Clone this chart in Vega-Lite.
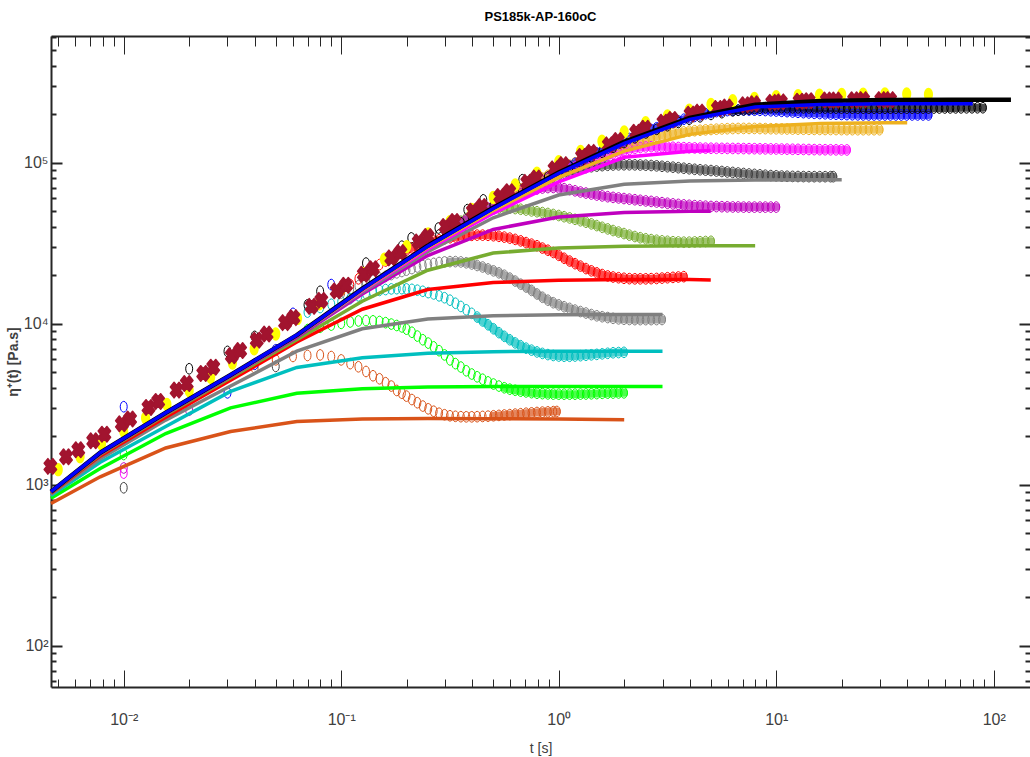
{
  "$schema": "https://vega.github.io/schema/vega-lite/v6.json",
  "width": 979,
  "height": 651,
  "autosize": {"type": "none"},
  "padding": {"left": 51, "top": 36, "right": 0, "bottom": 70},
  "background": "white",
  "config": {
    "view": {"stroke": null},
    "font": "Liberation Sans"
  },
  "title": {
    "text": "PS185k-AP-160oC",
    "fontSize": 13,
    "fontWeight": "bold",
    "color": "#000000",
    "anchor": "middle",
    "offset": 5
  },
  "data": {
    "values": [
      {"k":"c","s":"s01","t":0.04,"v":5330},{"k":"c","s":"s01","t":0.05,"v":5960},{"k":"c","s":"s01","t":0.06,"v":6260},{"k":"c","s":"s01","t":0.07,"v":6350},{"k":"c","s":"s01","t":0.08,"v":6400},{"k":"c","s":"s01","t":0.09,"v":6250},{"k":"c","s":"s01","t":0.1,"v":5960},{"k":"c","s":"s01","t":0.11,"v":5650},{"k":"c","s":"s01","t":0.12,"v":5400},{"k":"c","s":"s01","t":0.13,"v":5050},{"k":"c","s":"s01","t":0.14,"v":4750},{"k":"c","s":"s01","t":0.15,"v":4550},{"k":"c","s":"s01","t":0.16,"v":4300},{"k":"c","s":"s01","t":0.17,"v":4100},{"k":"c","s":"s01","t":0.18,"v":3850},{"k":"c","s":"s01","t":0.19,"v":3700},
      {"k":"c","s":"s01","t":0.1995,"v":3550},{"k":"c","s":"s01","t":0.2113,"v":3380},{"k":"c","s":"s01","t":0.2239,"v":3230},{"k":"c","s":"s01","t":0.2371,"v":3080},{"k":"c","s":"s01","t":0.2512,"v":2960},{"k":"c","s":"s01","t":0.2661,"v":2860},{"k":"c","s":"s01","t":0.2818,"v":2780},{"k":"c","s":"s01","t":0.2985,"v":2720},{"k":"c","s":"s01","t":0.3162,"v":2680},{"k":"c","s":"s01","t":0.335,"v":2660},{"k":"c","s":"s01","t":0.3548,"v":2645},{"k":"c","s":"s01","t":0.3758,"v":2640},{"k":"c","s":"s01","t":0.3981,"v":2640},{"k":"c","s":"s01","t":0.4217,"v":2645},{"k":"c","s":"s01","t":0.4467,"v":2655},{"k":"c","s":"s01","t":0.4732,"v":2665},{"k":"d","s":"s01","t":0.5012,"v":2680},{"k":"d","s":"s01","t":0.5309,"v":2695},{"k":"d","s":"s01","t":0.5623,"v":2710},{"k":"d","s":"s01","t":0.5957,"v":2725},{"k":"d","s":"s01","t":0.631,"v":2745},{"k":"d","s":"s01","t":0.6683,"v":2760},{"k":"d","s":"s01","t":0.7079,"v":2780},{"k":"d","s":"s01","t":0.7499,"v":2795},{"k":"d","s":"s01","t":0.7943,"v":2810},{"k":"d","s":"s01","t":0.8414,"v":2825},{"k":"d","s":"s01","t":0.8913,"v":2835},{"k":"d","s":"s01","t":0.9441,"v":2845},{"k":"d","s":"s01","t":0.98,"v":2850},

      {"k":"c","s":"s02","t":0.01,"v":1540},{"k":"c","s":"s02","t":0.07,"v":9200},{"k":"c","s":"s02","t":0.08,"v":9500},{"k":"c","s":"s02","t":0.09,"v":9800},{"k":"c","s":"s02","t":0.1,"v":10050},{"k":"c","s":"s02","t":0.11,"v":10250},{"k":"c","s":"s02","t":0.12,"v":10400},{"k":"c","s":"s02","t":0.13,"v":10460},{"k":"c","s":"s02","t":0.14,"v":10420},{"k":"c","s":"s02","t":0.15,"v":10320},{"k":"c","s":"s02","t":0.16,"v":10150},{"k":"c","s":"s02","t":0.17,"v":9950},{"k":"c","s":"s02","t":0.18,"v":9750},{"k":"c","s":"s02","t":0.19,"v":9550},
      {"k":"c","s":"s02","t":0.1995,"v":9250},{"k":"c","s":"s02","t":0.2113,"v":8850},{"k":"c","s":"s02","t":0.2239,"v":8380},{"k":"c","s":"s02","t":0.2371,"v":7950},{"k":"c","s":"s02","t":0.2512,"v":7580},{"k":"c","s":"s02","t":0.2661,"v":7180},{"k":"c","s":"s02","t":0.2818,"v":6800},{"k":"c","s":"s02","t":0.2985,"v":6400},{"k":"c","s":"s02","t":0.3162,"v":5960},{"k":"c","s":"s02","t":0.335,"v":5650},{"k":"c","s":"s02","t":0.3548,"v":5380},{"k":"c","s":"s02","t":0.3758,"v":5100},{"k":"c","s":"s02","t":0.3981,"v":4870},{"k":"c","s":"s02","t":0.4217,"v":4680},{"k":"c","s":"s02","t":0.4467,"v":4520},{"k":"c","s":"s02","t":0.4732,"v":4350},{"k":"c","s":"s02","t":0.5012,"v":4220},{"k":"c","s":"s02","t":0.5309,"v":4100},{"k":"d","s":"s02","t":0.5623,"v":4000},{"k":"d","s":"s02","t":0.5957,"v":3920},{"k":"d","s":"s02","t":0.631,"v":3860},{"k":"d","s":"s02","t":0.6683,"v":3810},{"k":"d","s":"s02","t":0.7079,"v":3770},{"k":"d","s":"s02","t":0.7499,"v":3730},{"k":"d","s":"s02","t":0.7943,"v":3700},{"k":"d","s":"s02","t":0.8414,"v":3680},{"k":"d","s":"s02","t":0.8913,"v":3665},{"k":"d","s":"s02","t":0.9441,"v":3655},{"k":"d","s":"s02","t":1,"v":3650},{"k":"d","s":"s02","t":1.059,"v":3650},{"k":"d","s":"s02","t":1.122,"v":3650},{"k":"d","s":"s02","t":1.189,"v":3650},{"k":"d","s":"s02","t":1.259,"v":3655},{"k":"d","s":"s02","t":1.334,"v":3660},{"k":"d","s":"s02","t":1.413,"v":3670},{"k":"d","s":"s02","t":1.496,"v":3680},{"k":"d","s":"s02","t":1.585,"v":3695},{"k":"d","s":"s02","t":1.679,"v":3705},{"k":"d","s":"s02","t":1.778,"v":3710},{"k":"d","s":"s02","t":1.884,"v":3715},{"k":"d","s":"s02","t":1.995,"v":3720},

      {"k":"c","s":"s03","t":0.07,"v":11800},{"k":"c","s":"s03","t":0.08,"v":12600},{"k":"c","s":"s03","t":0.09,"v":13200},{"k":"c","s":"s03","t":0.1,"v":13700},{"k":"c","s":"s03","t":0.11,"v":14300},{"k":"c","s":"s03","t":0.12,"v":14900},{"k":"c","s":"s03","t":0.13,"v":15400},{"k":"c","s":"s03","t":0.14,"v":15800},{"k":"c","s":"s03","t":0.15,"v":16100},{"k":"c","s":"s03","t":0.16,"v":16300},{"k":"c","s":"s03","t":0.17,"v":16450},{"k":"c","s":"s03","t":0.18,"v":16500},{"k":"c","s":"s03","t":0.19,"v":16500},
      {"k":"c","s":"s03","t":0.1995,"v":16450},{"k":"c","s":"s03","t":0.2113,"v":16350},{"k":"c","s":"s03","t":0.2239,"v":16150},{"k":"c","s":"s03","t":0.2371,"v":15900},{"k":"c","s":"s03","t":0.2512,"v":15600},{"k":"c","s":"s03","t":0.2661,"v":15300},{"k":"c","s":"s03","t":0.2818,"v":14900},{"k":"c","s":"s03","t":0.2985,"v":14500},{"k":"c","s":"s03","t":0.3162,"v":14000},{"k":"c","s":"s03","t":0.335,"v":13400},{"k":"c","s":"s03","t":0.3548,"v":12800},{"k":"c","s":"s03","t":0.3758,"v":12200},{"k":"c","s":"s03","t":0.3981,"v":11600},{"k":"d","s":"s03","t":0.4217,"v":11000},{"k":"d","s":"s03","t":0.4467,"v":10400},{"k":"d","s":"s03","t":0.4732,"v":9850},{"k":"d","s":"s03","t":0.5012,"v":9300},{"k":"d","s":"s03","t":0.5309,"v":8800},{"k":"d","s":"s03","t":0.5623,"v":8350},{"k":"d","s":"s03","t":0.5957,"v":7950},{"k":"d","s":"s03","t":0.631,"v":7600},{"k":"d","s":"s03","t":0.6683,"v":7300},{"k":"d","s":"s03","t":0.7079,"v":7050},{"k":"d","s":"s03","t":0.7499,"v":6850},{"k":"d","s":"s03","t":0.7943,"v":6680},{"k":"d","s":"s03","t":0.8414,"v":6540},{"k":"d","s":"s03","t":0.8913,"v":6430},{"k":"d","s":"s03","t":0.9441,"v":6350},{"k":"d","s":"s03","t":1,"v":6300},{"k":"d","s":"s03","t":1.059,"v":6280},{"k":"d","s":"s03","t":1.122,"v":6280},{"k":"d","s":"s03","t":1.189,"v":6300},{"k":"d","s":"s03","t":1.259,"v":6330},{"k":"d","s":"s03","t":1.334,"v":6370},{"k":"d","s":"s03","t":1.413,"v":6410},{"k":"d","s":"s03","t":1.496,"v":6450},{"k":"d","s":"s03","t":1.585,"v":6500},{"k":"d","s":"s03","t":1.679,"v":6550},{"k":"d","s":"s03","t":1.778,"v":6600},{"k":"d","s":"s03","t":1.884,"v":6620},{"k":"d","s":"s03","t":1.995,"v":6640},

      {"k":"c","s":"s04","t":0.1,"v":15500},{"k":"c","s":"s04","t":0.11,"v":16400},{"k":"c","s":"s04","t":0.12,"v":17200},{"k":"c","s":"s04","t":0.13,"v":17900},{"k":"c","s":"s04","t":0.14,"v":18600},{"k":"c","s":"s04","t":0.15,"v":19200},{"k":"c","s":"s04","t":0.16,"v":19700},{"k":"c","s":"s04","t":0.17,"v":20200},{"k":"c","s":"s04","t":0.18,"v":20700},{"k":"c","s":"s04","t":0.19,"v":21100},
      {"k":"c","s":"s04","t":0.1995,"v":21500},{"k":"c","s":"s04","t":0.2113,"v":22000},{"k":"c","s":"s04","t":0.2239,"v":22500},{"k":"c","s":"s04","t":0.2371,"v":23000},{"k":"c","s":"s04","t":0.2512,"v":23400},{"k":"c","s":"s04","t":0.2661,"v":23700},{"k":"c","s":"s04","t":0.2818,"v":24000},{"k":"c","s":"s04","t":0.2985,"v":24200},{"k":"d","s":"s04","t":0.3162,"v":24300},{"k":"d","s":"s04","t":0.335,"v":24300},{"k":"d","s":"s04","t":0.3548,"v":24200},{"k":"d","s":"s04","t":0.3758,"v":23900},{"k":"d","s":"s04","t":0.3981,"v":23500},{"k":"d","s":"s04","t":0.4217,"v":23000},{"k":"d","s":"s04","t":0.4467,"v":22500},{"k":"d","s":"s04","t":0.4732,"v":21900},{"k":"d","s":"s04","t":0.5012,"v":21300},{"k":"d","s":"s04","t":0.5309,"v":20700},{"k":"d","s":"s04","t":0.5623,"v":20000},{"k":"d","s":"s04","t":0.5957,"v":19200},{"k":"d","s":"s04","t":0.631,"v":18400},{"k":"d","s":"s04","t":0.6683,"v":17600},{"k":"d","s":"s04","t":0.7079,"v":16900},{"k":"d","s":"s04","t":0.7499,"v":16100},{"k":"d","s":"s04","t":0.7943,"v":15300},{"k":"d","s":"s04","t":0.8414,"v":14600},{"k":"d","s":"s04","t":0.8913,"v":14000},{"k":"d","s":"s04","t":0.9441,"v":13500},{"k":"d","s":"s04","t":1,"v":13100},{"k":"d","s":"s04","t":1.059,"v":12750},{"k":"d","s":"s04","t":1.122,"v":12450},{"k":"d","s":"s04","t":1.189,"v":12150},{"k":"d","s":"s04","t":1.259,"v":11900},{"k":"d","s":"s04","t":1.334,"v":11650},{"k":"d","s":"s04","t":1.413,"v":11400},{"k":"d","s":"s04","t":1.496,"v":11200},{"k":"d","s":"s04","t":1.585,"v":11050},{"k":"d","s":"s04","t":1.679,"v":10920},{"k":"d","s":"s04","t":1.778,"v":10800},{"k":"d","s":"s04","t":1.884,"v":10720},{"k":"d","s":"s04","t":1.995,"v":10660},{"k":"d","s":"s04","t":2.113,"v":10620},{"k":"d","s":"s04","t":2.239,"v":10600},{"k":"d","s":"s04","t":2.371,"v":10600},{"k":"d","s":"s04","t":2.512,"v":10600},{"k":"d","s":"s04","t":2.661,"v":10600},{"k":"d","s":"s04","t":2.818,"v":10610},{"k":"d","s":"s04","t":2.985,"v":10620},

      {"k":"c","s":"s05","t":0.1,"v":16000},{"k":"c","s":"s05","t":0.11,"v":17500},{"k":"c","s":"s05","t":0.12,"v":19000},{"k":"c","s":"s05","t":0.13,"v":20500},{"k":"c","s":"s05","t":0.14,"v":22000},{"k":"c","s":"s05","t":0.15,"v":23300},{"k":"c","s":"s05","t":0.16,"v":24500},{"k":"c","s":"s05","t":0.17,"v":25700},{"k":"c","s":"s05","t":0.18,"v":26800},{"k":"c","s":"s05","t":0.19,"v":27800},
      {"k":"d","s":"s05","t":0.1995,"v":28700},{"k":"d","s":"s05","t":0.2113,"v":29600},{"k":"d","s":"s05","t":0.2239,"v":30400},{"k":"d","s":"s05","t":0.2371,"v":31200},{"k":"d","s":"s05","t":0.2512,"v":31900},{"k":"d","s":"s05","t":0.2661,"v":32600},{"k":"d","s":"s05","t":0.2818,"v":33200},{"k":"d","s":"s05","t":0.2985,"v":33700},{"k":"d","s":"s05","t":0.3162,"v":34200},{"k":"d","s":"s05","t":0.335,"v":34600},{"k":"d","s":"s05","t":0.3548,"v":34900},{"k":"d","s":"s05","t":0.3758,"v":35200},{"k":"d","s":"s05","t":0.3981,"v":35400},{"k":"d","s":"s05","t":0.4217,"v":35500},{"k":"d","s":"s05","t":0.4467,"v":35500},{"k":"d","s":"s05","t":0.4732,"v":35400},{"k":"d","s":"s05","t":0.5012,"v":35200},{"k":"d","s":"s05","t":0.5309,"v":34900},{"k":"d","s":"s05","t":0.5623,"v":34500},{"k":"d","s":"s05","t":0.5957,"v":34000},{"k":"d","s":"s05","t":0.631,"v":33400},{"k":"d","s":"s05","t":0.6683,"v":32700},{"k":"d","s":"s05","t":0.7079,"v":31900},{"k":"d","s":"s05","t":0.7499,"v":31200},{"k":"d","s":"s05","t":0.7943,"v":30500},{"k":"d","s":"s05","t":0.8414,"v":29500},{"k":"d","s":"s05","t":0.8913,"v":28600},{"k":"d","s":"s05","t":0.9441,"v":27700},{"k":"d","s":"s05","t":1,"v":26600},{"k":"d","s":"s05","t":1.059,"v":25500},{"k":"d","s":"s05","t":1.122,"v":24500},{"k":"d","s":"s05","t":1.189,"v":23600},{"k":"d","s":"s05","t":1.259,"v":22800},{"k":"d","s":"s05","t":1.334,"v":22000},{"k":"d","s":"s05","t":1.413,"v":21300},{"k":"d","s":"s05","t":1.496,"v":20700},{"k":"d","s":"s05","t":1.585,"v":20200},{"k":"d","s":"s05","t":1.679,"v":19800},{"k":"d","s":"s05","t":1.778,"v":19500},{"k":"d","s":"s05","t":1.884,"v":19300},{"k":"d","s":"s05","t":1.995,"v":19150},{"k":"d","s":"s05","t":2.113,"v":19050},{"k":"d","s":"s05","t":2.239,"v":19000},{"k":"d","s":"s05","t":2.371,"v":19000},{"k":"d","s":"s05","t":2.512,"v":19000},{"k":"d","s":"s05","t":2.661,"v":19050},{"k":"d","s":"s05","t":2.818,"v":19100},{"k":"d","s":"s05","t":2.985,"v":19200},{"k":"d","s":"s05","t":3.162,"v":19300},{"k":"d","s":"s05","t":3.35,"v":19400},{"k":"d","s":"s05","t":3.548,"v":19500},{"k":"d","s":"s05","t":3.758,"v":19600},

      {"k":"d","s":"s06","t":0.3162,"v":39700},{"k":"d","s":"s06","t":0.335,"v":41500},{"k":"d","s":"s06","t":0.3548,"v":43300},{"k":"d","s":"s06","t":0.3758,"v":45100},{"k":"d","s":"s06","t":0.3981,"v":46800},{"k":"d","s":"s06","t":0.4217,"v":48400},{"k":"d","s":"s06","t":0.4467,"v":49800},{"k":"d","s":"s06","t":0.4732,"v":50900},{"k":"d","s":"s06","t":0.5012,"v":51800},{"k":"d","s":"s06","t":0.5309,"v":52300},{"k":"d","s":"s06","t":0.5623,"v":52500},{"k":"d","s":"s06","t":0.5957,"v":52300},{"k":"d","s":"s06","t":0.631,"v":51900},{"k":"d","s":"s06","t":0.6683,"v":51400},{"k":"d","s":"s06","t":0.7079,"v":50800},{"k":"d","s":"s06","t":0.7499,"v":50200},{"k":"d","s":"s06","t":0.7943,"v":49600},{"k":"d","s":"s06","t":0.8414,"v":49000},{"k":"d","s":"s06","t":0.8913,"v":48400},{"k":"d","s":"s06","t":0.9441,"v":47700},{"k":"d","s":"s06","t":1,"v":47000},{"k":"d","s":"s06","t":1.059,"v":46200},{"k":"d","s":"s06","t":1.122,"v":45400},{"k":"d","s":"s06","t":1.189,"v":44500},{"k":"d","s":"s06","t":1.259,"v":43600},{"k":"d","s":"s06","t":1.334,"v":42700},{"k":"d","s":"s06","t":1.413,"v":41700},{"k":"d","s":"s06","t":1.496,"v":40700},{"k":"d","s":"s06","t":1.585,"v":39700},{"k":"d","s":"s06","t":1.679,"v":38800},{"k":"d","s":"s06","t":1.778,"v":37900},{"k":"d","s":"s06","t":1.884,"v":37100},{"k":"d","s":"s06","t":1.995,"v":36300},{"k":"d","s":"s06","t":2.113,"v":35500},{"k":"d","s":"s06","t":2.239,"v":34800},{"k":"d","s":"s06","t":2.371,"v":34200},{"k":"d","s":"s06","t":2.512,"v":33700},{"k":"d","s":"s06","t":2.661,"v":33300},{"k":"d","s":"s06","t":2.818,"v":33000},{"k":"d","s":"s06","t":2.985,"v":32700},{"k":"d","s":"s06","t":3.162,"v":32500},{"k":"d","s":"s06","t":3.35,"v":32300},{"k":"d","s":"s06","t":3.548,"v":32200},{"k":"d","s":"s06","t":3.758,"v":32100},{"k":"d","s":"s06","t":3.981,"v":32100},{"k":"d","s":"s06","t":4.217,"v":32200},{"k":"d","s":"s06","t":4.467,"v":32300},{"k":"d","s":"s06","t":4.732,"v":32400},{"k":"d","s":"s06","t":5.012,"v":32500},

      {"k":"c","s":"s07","t":0.01,"v":1270},{"k":"c","s":"s07","t":0.02,"v":2900},
      {"k":"d","s":"s07","t":0.3162,"v":38800},{"k":"d","s":"s07","t":0.335,"v":40600},{"k":"d","s":"s07","t":0.3548,"v":42400},{"k":"d","s":"s07","t":0.3758,"v":44300},{"k":"d","s":"s07","t":0.3981,"v":46200},{"k":"d","s":"s07","t":0.4217,"v":48200},{"k":"d","s":"s07","t":0.4467,"v":50200},{"k":"d","s":"s07","t":0.4732,"v":52100},{"k":"d","s":"s07","t":0.5012,"v":54000},{"k":"d","s":"s07","t":0.5309,"v":56000},{"k":"d","s":"s07","t":0.5623,"v":58000},{"k":"d","s":"s07","t":0.5957,"v":60000},{"k":"d","s":"s07","t":0.631,"v":62000},{"k":"d","s":"s07","t":0.6683,"v":64000},{"k":"d","s":"s07","t":0.7079,"v":65800},{"k":"d","s":"s07","t":0.7499,"v":67400},{"k":"d","s":"s07","t":0.7943,"v":68700},{"k":"d","s":"s07","t":0.8414,"v":69600},{"k":"d","s":"s07","t":0.8913,"v":70100},{"k":"d","s":"s07","t":0.9441,"v":70200},{"k":"d","s":"s07","t":1,"v":69800},{"k":"d","s":"s07","t":1.059,"v":69000},{"k":"d","s":"s07","t":1.122,"v":68000},{"k":"d","s":"s07","t":1.189,"v":66900},{"k":"d","s":"s07","t":1.259,"v":65800},{"k":"d","s":"s07","t":1.334,"v":64800},{"k":"d","s":"s07","t":1.413,"v":63900},{"k":"d","s":"s07","t":1.496,"v":63000},{"k":"d","s":"s07","t":1.585,"v":62200},{"k":"d","s":"s07","t":1.679,"v":61500},{"k":"d","s":"s07","t":1.778,"v":60900},{"k":"d","s":"s07","t":1.884,"v":60400},{"k":"d","s":"s07","t":1.995,"v":59900},{"k":"d","s":"s07","t":2.113,"v":59400},{"k":"d","s":"s07","t":2.239,"v":58900},{"k":"d","s":"s07","t":2.371,"v":58400},{"k":"d","s":"s07","t":2.512,"v":57900},{"k":"d","s":"s07","t":2.661,"v":57500},{"k":"d","s":"s07","t":2.818,"v":57000},{"k":"d","s":"s07","t":2.985,"v":56500},{"k":"d","s":"s07","t":3.162,"v":56000},{"k":"d","s":"s07","t":3.35,"v":55500},{"k":"d","s":"s07","t":3.548,"v":55100},{"k":"d","s":"s07","t":3.758,"v":54700},{"k":"d","s":"s07","t":3.981,"v":54400},{"k":"d","s":"s07","t":4.217,"v":54100},{"k":"d","s":"s07","t":4.467,"v":53900},{"k":"d","s":"s07","t":4.732,"v":53700},{"k":"d","s":"s07","t":5.012,"v":53500},{"k":"d","s":"s07","t":5.309,"v":53400},{"k":"d","s":"s07","t":5.623,"v":53300},{"k":"d","s":"s07","t":5.957,"v":53200},{"k":"d","s":"s07","t":6.31,"v":53100},{"k":"d","s":"s07","t":6.683,"v":53100},{"k":"d","s":"s07","t":7.079,"v":53000},{"k":"d","s":"s07","t":7.499,"v":53000},{"k":"d","s":"s07","t":7.943,"v":53000},{"k":"d","s":"s07","t":8.414,"v":53000},{"k":"d","s":"s07","t":8.913,"v":53000},{"k":"d","s":"s07","t":9.441,"v":53000},{"k":"d","s":"s07","t":10,"v":53000},

      {"k":"c","s":"s08","t":0.01,"v":957},{"k":"c","s":"s08","t":0.05,"v":5430},
      {"k":"d","s":"s08","t":0.5012,"v":54600},{"k":"d","s":"s08","t":0.5309,"v":57000},{"k":"d","s":"s08","t":0.5623,"v":59400},{"k":"d","s":"s08","t":0.5957,"v":61900},{"k":"d","s":"s08","t":0.631,"v":64600},{"k":"d","s":"s08","t":0.6683,"v":67100},{"k":"d","s":"s08","t":0.7079,"v":69800},{"k":"d","s":"s08","t":0.7499,"v":72200},{"k":"d","s":"s08","t":0.7943,"v":74600},{"k":"d","s":"s08","t":0.8414,"v":77000},{"k":"d","s":"s08","t":0.8913,"v":79400},{"k":"d","s":"s08","t":0.9441,"v":81800},{"k":"d","s":"s08","t":1,"v":84100},{"k":"d","s":"s08","t":1.059,"v":86100},{"k":"d","s":"s08","t":1.122,"v":88100},{"k":"d","s":"s08","t":1.189,"v":90200},{"k":"d","s":"s08","t":1.259,"v":92300},{"k":"d","s":"s08","t":1.334,"v":93300},{"k":"d","s":"s08","t":1.413,"v":94400},{"k":"d","s":"s08","t":1.496,"v":95200},{"k":"d","s":"s08","t":1.585,"v":95900},{"k":"d","s":"s08","t":1.679,"v":96400},{"k":"d","s":"s08","t":1.778,"v":96800},{"k":"d","s":"s08","t":1.884,"v":97000},{"k":"d","s":"s08","t":1.995,"v":97100},{"k":"d","s":"s08","t":2.113,"v":97100},{"k":"d","s":"s08","t":2.239,"v":97000},{"k":"d","s":"s08","t":2.371,"v":96800},{"k":"d","s":"s08","t":2.512,"v":96500},{"k":"d","s":"s08","t":2.661,"v":96100},{"k":"d","s":"s08","t":2.818,"v":95600},{"k":"d","s":"s08","t":2.985,"v":95000},{"k":"d","s":"s08","t":3.162,"v":94400},{"k":"d","s":"s08","t":3.35,"v":93800},{"k":"d","s":"s08","t":3.548,"v":93100},{"k":"d","s":"s08","t":3.758,"v":92400},{"k":"d","s":"s08","t":3.981,"v":91700},{"k":"d","s":"s08","t":4.217,"v":91000},{"k":"d","s":"s08","t":4.467,"v":90400},{"k":"d","s":"s08","t":4.732,"v":89900},{"k":"d","s":"s08","t":5.012,"v":89400},{"k":"d","s":"s08","t":5.309,"v":88800},{"k":"d","s":"s08","t":5.623,"v":88200},{"k":"d","s":"s08","t":5.957,"v":87600},{"k":"d","s":"s08","t":6.31,"v":87000},{"k":"d","s":"s08","t":6.683,"v":86300},{"k":"d","s":"s08","t":7.079,"v":85700},{"k":"d","s":"s08","t":7.499,"v":85100},{"k":"d","s":"s08","t":7.943,"v":84600},{"k":"d","s":"s08","t":8.414,"v":84100},{"k":"d","s":"s08","t":8.913,"v":83600},{"k":"d","s":"s08","t":9.441,"v":83200},{"k":"d","s":"s08","t":10,"v":82900},{"k":"d","s":"s08","t":10.59,"v":82600},{"k":"d","s":"s08","t":11.22,"v":82400},{"k":"d","s":"s08","t":11.89,"v":82200},{"k":"d","s":"s08","t":12.59,"v":82100},{"k":"d","s":"s08","t":13.34,"v":82000},{"k":"d","s":"s08","t":14.13,"v":81900},{"k":"d","s":"s08","t":14.96,"v":81900},{"k":"d","s":"s08","t":15.85,"v":81900},{"k":"d","s":"s08","t":16.79,"v":81900},{"k":"d","s":"s08","t":17.78,"v":81900},{"k":"d","s":"s08","t":18.3,"v":81900},

      {"k":"c","s":"s09","t":0.01,"v":1180},
      {"k":"d","s":"s09","t":0.5012,"v":54000},{"k":"d","s":"s09","t":0.5309,"v":56300},{"k":"d","s":"s09","t":0.5623,"v":58700},{"k":"d","s":"s09","t":0.5957,"v":61200},{"k":"d","s":"s09","t":0.631,"v":63800},{"k":"d","s":"s09","t":0.6683,"v":66400},{"k":"d","s":"s09","t":0.7079,"v":69000},{"k":"d","s":"s09","t":0.7499,"v":71800},{"k":"d","s":"s09","t":0.7943,"v":74600},{"k":"d","s":"s09","t":0.8414,"v":77500},{"k":"d","s":"s09","t":0.8913,"v":80500},{"k":"d","s":"s09","t":0.9441,"v":83300},{"k":"d","s":"s09","t":1,"v":86100},{"k":"d","s":"s09","t":1.059,"v":88600},{"k":"d","s":"s09","t":1.122,"v":91200},{"k":"d","s":"s09","t":1.189,"v":93900},{"k":"d","s":"s09","t":1.259,"v":96600},{"k":"d","s":"s09","t":1.334,"v":99300},{"k":"d","s":"s09","t":1.413,"v":102000},{"k":"d","s":"s09","t":1.496,"v":105000},{"k":"d","s":"s09","t":1.585,"v":108000},{"k":"d","s":"s09","t":1.679,"v":111000},{"k":"d","s":"s09","t":1.778,"v":113800},{"k":"d","s":"s09","t":1.884,"v":116400},{"k":"d","s":"s09","t":1.995,"v":118800},{"k":"d","s":"s09","t":2.113,"v":120900},{"k":"d","s":"s09","t":2.239,"v":122700},{"k":"d","s":"s09","t":2.371,"v":124200},{"k":"d","s":"s09","t":2.512,"v":125300},{"k":"d","s":"s09","t":2.661,"v":125800},{"k":"d","s":"s09","t":2.818,"v":125800},{"k":"d","s":"s09","t":2.985,"v":125500},{"k":"d","s":"s09","t":3.162,"v":125100},{"k":"d","s":"s09","t":3.35,"v":124700},{"k":"d","s":"s09","t":3.548,"v":124300},{"k":"d","s":"s09","t":3.758,"v":124000},{"k":"d","s":"s09","t":3.981,"v":123700},{"k":"d","s":"s09","t":4.217,"v":123500},{"k":"d","s":"s09","t":4.467,"v":123300},{"k":"d","s":"s09","t":4.732,"v":123100},{"k":"d","s":"s09","t":5.012,"v":123000},{"k":"d","s":"s09","t":5.309,"v":122900},{"k":"d","s":"s09","t":5.623,"v":122800},{"k":"d","s":"s09","t":5.957,"v":122700},{"k":"d","s":"s09","t":6.31,"v":122600},{"k":"d","s":"s09","t":6.683,"v":122500},{"k":"d","s":"s09","t":7.079,"v":122400},{"k":"d","s":"s09","t":7.499,"v":122300},{"k":"d","s":"s09","t":7.943,"v":122200},{"k":"d","s":"s09","t":8.414,"v":122000},{"k":"d","s":"s09","t":8.913,"v":121900},{"k":"d","s":"s09","t":9.441,"v":121800},{"k":"d","s":"s09","t":10,"v":121700},{"k":"d","s":"s09","t":10.59,"v":121500},{"k":"d","s":"s09","t":11.22,"v":121400},{"k":"d","s":"s09","t":11.89,"v":121200},{"k":"d","s":"s09","t":12.59,"v":121100},{"k":"d","s":"s09","t":13.34,"v":120900},{"k":"d","s":"s09","t":14.13,"v":120800},{"k":"d","s":"s09","t":14.96,"v":120600},{"k":"d","s":"s09","t":15.85,"v":120500},{"k":"d","s":"s09","t":16.79,"v":120400},{"k":"d","s":"s09","t":17.78,"v":120300},{"k":"d","s":"s09","t":18.84,"v":120200},{"k":"d","s":"s09","t":19.95,"v":120100},{"k":"d","s":"s09","t":21.13,"v":120000},

      {"k":"d","s":"s10","t":0.631,"v":66100},{"k":"d","s":"s10","t":0.6683,"v":68700},{"k":"d","s":"s10","t":0.7079,"v":71400},{"k":"d","s":"s10","t":0.7499,"v":74300},{"k":"d","s":"s10","t":0.7943,"v":77200},{"k":"d","s":"s10","t":0.8414,"v":80200},{"k":"d","s":"s10","t":0.8913,"v":83400},{"k":"d","s":"s10","t":0.9441,"v":86700},{"k":"d","s":"s10","t":1,"v":90200},{"k":"d","s":"s10","t":1.059,"v":93300},{"k":"d","s":"s10","t":1.122,"v":96600},{"k":"d","s":"s10","t":1.189,"v":100000},{"k":"d","s":"s10","t":1.259,"v":103500},{"k":"d","s":"s10","t":1.334,"v":107200},{"k":"d","s":"s10","t":1.413,"v":110900},{"k":"d","s":"s10","t":1.496,"v":114800},{"k":"d","s":"s10","t":1.585,"v":118900},{"k":"d","s":"s10","t":1.679,"v":122200},{"k":"d","s":"s10","t":1.778,"v":125300},{"k":"d","s":"s10","t":1.884,"v":128200},{"k":"d","s":"s10","t":1.995,"v":130900},{"k":"d","s":"s10","t":2.113,"v":133400},{"k":"d","s":"s10","t":2.239,"v":135500},{"k":"d","s":"s10","t":2.371,"v":138000},{"k":"d","s":"s10","t":2.512,"v":140500},{"k":"d","s":"s10","t":2.661,"v":143000},{"k":"d","s":"s10","t":2.818,"v":145500},{"k":"d","s":"s10","t":2.985,"v":147800},{"k":"d","s":"s10","t":3.162,"v":150000},{"k":"d","s":"s10","t":3.35,"v":152000},{"k":"d","s":"s10","t":3.548,"v":153800},{"k":"d","s":"s10","t":3.758,"v":155400},{"k":"d","s":"s10","t":3.981,"v":156800},{"k":"d","s":"s10","t":4.217,"v":158000},{"k":"d","s":"s10","t":4.467,"v":159000},{"k":"d","s":"s10","t":4.732,"v":160000},{"k":"d","s":"s10","t":5.012,"v":160800},{"k":"d","s":"s10","t":5.309,"v":161500},{"k":"d","s":"s10","t":5.623,"v":162100},{"k":"d","s":"s10","t":5.957,"v":162600},{"k":"d","s":"s10","t":6.31,"v":163000},{"k":"d","s":"s10","t":6.683,"v":163200},{"k":"d","s":"s10","t":7.079,"v":163300},{"k":"d","s":"s10","t":7.499,"v":163300},{"k":"d","s":"s10","t":7.943,"v":163200},{"k":"d","s":"s10","t":8.414,"v":163000},{"k":"d","s":"s10","t":8.913,"v":162800},{"k":"d","s":"s10","t":9.441,"v":162600},{"k":"d","s":"s10","t":10,"v":162400},{"k":"d","s":"s10","t":10.59,"v":162200},{"k":"d","s":"s10","t":11.22,"v":162000},{"k":"d","s":"s10","t":11.89,"v":161800},{"k":"d","s":"s10","t":12.59,"v":161600},{"k":"d","s":"s10","t":13.34,"v":161400},{"k":"d","s":"s10","t":14.13,"v":161200},{"k":"d","s":"s10","t":14.96,"v":161000},{"k":"d","s":"s10","t":15.85,"v":160900},{"k":"d","s":"s10","t":16.79,"v":160800},{"k":"d","s":"s10","t":17.78,"v":160700},{"k":"d","s":"s10","t":18.84,"v":160600},{"k":"d","s":"s10","t":19.95,"v":160500},{"k":"d","s":"s10","t":21.13,"v":160400},{"k":"d","s":"s10","t":22.39,"v":160400},{"k":"d","s":"s10","t":23.71,"v":160300},{"k":"d","s":"s10","t":25.12,"v":160300},{"k":"d","s":"s10","t":26.61,"v":160300},{"k":"d","s":"s10","t":28.18,"v":160300},{"k":"d","s":"s10","t":29.85,"v":160300},

      {"k":"c","s":"s11","t":0.01,"v":3050},{"k":"c","s":"s11","t":0.03,"v":3720},{"k":"c","s":"s11","t":0.04,"v":5600},{"k":"c","s":"s11","t":0.05,"v":6890},{"k":"c","s":"s11","t":0.06,"v":11600},{"k":"c","s":"s11","t":0.09,"v":17500},
      {"k":"d","s":"s11","t":1,"v":88100},{"k":"d","s":"s11","t":1.059,"v":91600},{"k":"d","s":"s11","t":1.122,"v":95300},{"k":"d","s":"s11","t":1.189,"v":99100},{"k":"d","s":"s11","t":1.259,"v":103000},{"k":"d","s":"s11","t":1.334,"v":107200},{"k":"d","s":"s11","t":1.413,"v":110900},{"k":"d","s":"s11","t":1.496,"v":114800},{"k":"d","s":"s11","t":1.585,"v":118900},{"k":"d","s":"s11","t":1.679,"v":123000},{"k":"d","s":"s11","t":1.778,"v":127400},{"k":"d","s":"s11","t":1.884,"v":131800},{"k":"d","s":"s11","t":1.995,"v":136500},{"k":"d","s":"s11","t":2.113,"v":141300},{"k":"d","s":"s11","t":2.239,"v":146200},{"k":"d","s":"s11","t":2.371,"v":151400},{"k":"d","s":"s11","t":2.512,"v":156700},{"k":"d","s":"s11","t":2.661,"v":160700},{"k":"d","s":"s11","t":2.818,"v":164800},{"k":"d","s":"s11","t":2.985,"v":169400},{"k":"d","s":"s11","t":3.162,"v":173800},{"k":"d","s":"s11","t":3.35,"v":177800},{"k":"d","s":"s11","t":3.548,"v":182000},{"k":"d","s":"s11","t":3.758,"v":186200},{"k":"d","s":"s11","t":3.981,"v":190500},{"k":"d","s":"s11","t":4.217,"v":193900},{"k":"d","s":"s11","t":4.467,"v":198200},{"k":"d","s":"s11","t":4.732,"v":201600},{"k":"d","s":"s11","t":5.012,"v":205100},{"k":"d","s":"s11","t":5.309,"v":207700},{"k":"d","s":"s11","t":5.623,"v":209400},{"k":"d","s":"s11","t":5.957,"v":210700},{"k":"d","s":"s11","t":6.31,"v":211600},{"k":"d","s":"s11","t":6.683,"v":212200},{"k":"d","s":"s11","t":7.079,"v":212400},{"k":"d","s":"s11","t":7.499,"v":212300},{"k":"d","s":"s11","t":7.943,"v":212000},{"k":"d","s":"s11","t":8.414,"v":211500},{"k":"d","s":"s11","t":8.913,"v":210900},{"k":"d","s":"s11","t":9.441,"v":210200},{"k":"d","s":"s11","t":10,"v":209500},{"k":"d","s":"s11","t":10.59,"v":208600},{"k":"d","s":"s11","t":11.22,"v":207600},{"k":"d","s":"s11","t":11.89,"v":206600},{"k":"d","s":"s11","t":12.59,"v":205600},{"k":"d","s":"s11","t":13.34,"v":204600},{"k":"d","s":"s11","t":14.13,"v":203700},{"k":"d","s":"s11","t":14.96,"v":202800},{"k":"d","s":"s11","t":15.85,"v":202000},{"k":"d","s":"s11","t":16.79,"v":201300},{"k":"d","s":"s11","t":17.78,"v":200600},{"k":"d","s":"s11","t":18.84,"v":200000},{"k":"d","s":"s11","t":19.95,"v":199500},{"k":"d","s":"s11","t":21.13,"v":199000},{"k":"d","s":"s11","t":22.39,"v":198600},{"k":"d","s":"s11","t":23.71,"v":198300},{"k":"d","s":"s11","t":25.12,"v":198100},{"k":"d","s":"s11","t":26.61,"v":198000},{"k":"d","s":"s11","t":28.18,"v":198000},{"k":"d","s":"s11","t":29.85,"v":198000},{"k":"d","s":"s11","t":31.62,"v":198000},{"k":"d","s":"s11","t":33.5,"v":198000},{"k":"d","s":"s11","t":35.48,"v":198000},{"k":"d","s":"s11","t":37.58,"v":198000},{"k":"d","s":"s11","t":39.81,"v":198000},{"k":"d","s":"s11","t":42.17,"v":198000},{"k":"d","s":"s11","t":44.67,"v":198000},{"k":"d","s":"s11","t":47.32,"v":198000},{"k":"d","s":"s11","t":50.12,"v":198000},

      {"k":"c","s":"s12","t":0.02,"v":5250},{"k":"c","s":"s12","t":0.03,"v":6730},{"k":"c","s":"s12","t":0.04,"v":8340},{"k":"c","s":"s12","t":0.07,"v":13100},{"k":"c","s":"s12","t":0.08,"v":15900},{"k":"c","s":"s12","t":0.13,"v":23800},{"k":"c","s":"s12","t":0.19,"v":30300},{"k":"c","s":"s12","t":0.21,"v":34100},{"k":"c","s":"s12","t":0.28,"v":39300},{"k":"c","s":"s12","t":0.38,"v":51100},{"k":"c","s":"s12","t":0.45,"v":58800},{"k":"c","s":"s12","t":0.68,"v":78400},
      {"k":"c","s":"s12","t":0.2512,"v":32600},{"k":"c","s":"s12","t":0.2818,"v":35600},{"k":"c","s":"s12","t":0.3162,"v":38800},{"k":"c","s":"s12","t":0.3548,"v":42400},{"k":"c","s":"s12","t":0.3981,"v":46200},{"k":"c","s":"s12","t":0.4467,"v":50200},{"k":"c","s":"s12","t":0.5012,"v":54600},{"k":"c","s":"s12","t":0.5623,"v":59400},{"k":"c","s":"s12","t":0.631,"v":64600},{"k":"c","s":"s12","t":0.7079,"v":69800},{"k":"c","s":"s12","t":0.7943,"v":75400},{"k":"c","s":"s12","t":0.8913,"v":81500},{"k":"c","s":"s12","t":1,"v":88100},{"k":"c","s":"s12","t":1.122,"v":94400},{"k":"c","s":"s12","t":1.259,"v":101200},{"k":"c","s":"s12","t":1.413,"v":108400},{"k":"c","s":"s12","t":1.585,"v":116100},{"k":"c","s":"s12","t":1.778,"v":124500},{"k":"c","s":"s12","t":1.995,"v":133400},{"k":"c","s":"s12","t":2.239,"v":142900},{"k":"c","s":"s12","t":2.512,"v":153100},{"k":"c","s":"s12","t":2.818,"v":161300},{"k":"c","s":"s12","t":3.162,"v":169800},{"k":"c","s":"s12","t":3.548,"v":177800},{"k":"c","s":"s12","t":3.981,"v":186200},{"k":"c","s":"s12","t":4.467,"v":192800},{"k":"c","s":"s12","t":5.012,"v":199500},{"k":"c","s":"s12","t":5.623,"v":204600},{"k":"d","s":"s12","t":6.31,"v":209900},{"k":"d","s":"s12","t":6.683,"v":211800},{"k":"d","s":"s12","t":7.079,"v":213300},{"k":"d","s":"s12","t":7.499,"v":215100},{"k":"d","s":"s12","t":7.943,"v":216800},{"k":"d","s":"s12","t":8.414,"v":218300},{"k":"d","s":"s12","t":8.913,"v":219600},{"k":"d","s":"s12","t":9.441,"v":219700},{"k":"d","s":"s12","t":10,"v":219800},{"k":"d","s":"s12","t":10.59,"v":219700},{"k":"d","s":"s12","t":11.22,"v":219500},{"k":"d","s":"s12","t":11.89,"v":219300},{"k":"d","s":"s12","t":12.59,"v":219200},{"k":"d","s":"s12","t":13.34,"v":219100},{"k":"d","s":"s12","t":14.13,"v":219000},{"k":"d","s":"s12","t":14.96,"v":218900},{"k":"d","s":"s12","t":15.85,"v":218800},{"k":"d","s":"s12","t":16.79,"v":218700},{"k":"d","s":"s12","t":17.78,"v":218600},{"k":"d","s":"s12","t":18.84,"v":218500},{"k":"d","s":"s12","t":19.95,"v":218500},{"k":"d","s":"s12","t":21.13,"v":218400},{"k":"d","s":"s12","t":22.39,"v":218400},{"k":"d","s":"s12","t":23.71,"v":218300},{"k":"d","s":"s12","t":25.12,"v":218300},{"k":"d","s":"s12","t":26.61,"v":218200},{"k":"d","s":"s12","t":28.18,"v":218200},{"k":"d","s":"s12","t":29.85,"v":218200},{"k":"d","s":"s12","t":31.62,"v":218200},{"k":"d","s":"s12","t":33.5,"v":218200},{"k":"d","s":"s12","t":35.48,"v":218300},{"k":"d","s":"s12","t":37.58,"v":218300},{"k":"d","s":"s12","t":39.81,"v":218300},{"k":"d","s":"s12","t":42.17,"v":218400},{"k":"d","s":"s12","t":44.67,"v":218400},{"k":"d","s":"s12","t":47.32,"v":218500},{"k":"d","s":"s12","t":50.12,"v":218500},{"k":"d","s":"s12","t":53.09,"v":218600},{"k":"d","s":"s12","t":56.23,"v":218700},{"k":"d","s":"s12","t":59.57,"v":218800},{"k":"d","s":"s12","t":63.1,"v":218900},{"k":"d","s":"s12","t":66.83,"v":219000},{"k":"d","s":"s12","t":70.79,"v":219100},{"k":"d","s":"s12","t":74.99,"v":219200},{"k":"d","s":"s12","t":79.43,"v":219300},{"k":"d","s":"s12","t":84.14,"v":219400},{"k":"d","s":"s12","t":89.13,"v":219500},

      {"k":"y","t":0.005,"v":1240},{"k":"y","t":0.0063,"v":1490},{"k":"y","t":0.0079,"v":1790},{"k":"y","t":0.01,"v":2150},{"k":"y","t":0.0126,"v":2600},{"k":"y","t":0.0158,"v":3150},{"k":"y","t":0.02,"v":3830},{"k":"y","t":0.0251,"v":4650},{"k":"y","t":0.0316,"v":5700},{"k":"y","t":0.0398,"v":6980},{"k":"y","t":0.05,"v":8640},{"k":"y","t":0.063,"v":10790},{"k":"y","t":0.0794,"v":13290},{"k":"y","t":0.1,"v":16480},{"k":"y","t":0.126,"v":20490},{"k":"y","t":0.158,"v":25120},{"k":"y","t":0.2,"v":30130},{"k":"y","t":0.251,"v":36140},{"k":"y","t":0.316,"v":43050},{"k":"y","t":0.398,"v":51290},{"k":"y","t":0.5,"v":60740},{"k":"y","t":0.631,"v":72780},{"k":"y","t":0.794,"v":86210},{"k":"y","t":1,"v":101600},{"k":"y","t":1.26,"v":117500},{"k":"y","t":1.58,"v":135800},{"k":"y","t":2,"v":155000},{"k":"y","t":2.51,"v":177000},{"k":"y","t":3.16,"v":195000},{"k":"y","t":3.98,"v":212000},{"k":"y","t":5.01,"v":230000},{"k":"y","t":6.31,"v":243000},{"k":"y","t":7.94,"v":251000},{"k":"y","t":10,"v":257000},{"k":"y","t":12.6,"v":261000},{"k":"y","t":15.8,"v":263000},{"k":"y","t":20,"v":265000},{"k":"y","t":25.1,"v":266000},{"k":"y","t":31.6,"v":267000},{"k":"y","t":39.8,"v":267000},{"k":"y","t":50.1,"v":265000},

      {"k":"x","t":0.0046,"v":1300},{"k":"x","t":0.00543,"v":1490},{"k":"x","t":0.00618,"v":1650},{"k":"x","t":0.00724,"v":1875},{"k":"x","t":0.00815,"v":2060},{"k":"x","t":0.0098,"v":2390},{"k":"x","t":0.0107,"v":2560},{"k":"x","t":0.013,"v":3020},{"k":"x","t":0.0144,"v":3290},{"k":"x","t":0.0175,"v":3870},{"k":"x","t":0.0195,"v":4250},{"k":"x","t":0.0232,"v":4910},{"k":"x","t":0.0258,"v":5370},{"k":"x","t":0.0314,"v":6320},{"k":"x","t":0.0343,"v":6810},{"k":"x","t":0.0409,"v":7910},{"k":"x","t":0.0454,"v":8630},{"k":"x","t":0.0552,"v":10160},{"k":"x","t":0.0603,"v":10910},{"k":"x","t":0.0731,"v":12820},{"k":"x","t":0.081,"v":13960},{"k":"x","t":0.0953,"v":16000},{"k":"x","t":0.105,"v":17340},{"k":"x","t":0.127,"v":20280},{"k":"x","t":0.14,"v":21930},{"k":"x","t":0.17,"v":25650},{"k":"x","t":0.187,"v":27670},{"k":"x","t":0.227,"v":32200},{"k":"x","t":0.25,"v":34770},{"k":"x","t":0.302,"v":40180},{"k":"x","t":0.332,"v":43150},{"k":"x","t":0.403,"v":50000},{"k":"x","t":0.443,"v":53460},{"k":"x","t":0.538,"v":61660},{"k":"x","t":0.592,"v":66070},{"k":"x","t":0.717,"v":75500},{"k":"x","t":0.789,"v":80350},{"k":"x","t":0.957,"v":91600},{"k":"x","t":1.05,"v":97300},{"k":"x","t":1.28,"v":109400},{"k":"x","t":1.41,"v":115900},{"k":"x","t":1.7,"v":129100},{"k":"x","t":1.87,"v":137400},{"k":"x","t":2.27,"v":154500},{"k":"x","t":2.5,"v":163700},{"k":"x","t":3.03,"v":178500},{"k":"x","t":3.33,"v":185600},{"k":"x","t":4.04,"v":200400},{"k":"x","t":4.44,"v":206100},{"k":"x","t":5.39,"v":217300},{"k":"x","t":5.93,"v":221800},{"k":"x","t":7.19,"v":229100},{"k":"x","t":7.91,"v":232300},{"k":"x","t":9.59,"v":237100},{"k":"x","t":10.5,"v":238800},{"k":"x","t":12.8,"v":241000},{"k":"x","t":14.1,"v":242700},{"k":"x","t":17.1,"v":244900},{"k":"x","t":18.8,"v":245000},{"k":"x","t":22.8,"v":246000},{"k":"x","t":25.1,"v":246600},{"k":"x","t":30.4,"v":246600},{"k":"x","t":33.4,"v":246600},

      {"k":"l","s":"s01","t":0.00463,"v":765},{"k":"l","s":"s01","t":0.0078,"v":1120},{"k":"l","s":"s01","t":0.0156,"v":1690},{"k":"l","s":"s01","t":0.031,"v":2140},{"k":"l","s":"s01","t":0.0625,"v":2470},{"k":"l","s":"s01","t":0.125,"v":2560},{"k":"l","s":"s01","t":0.25,"v":2580},{"k":"l","s":"s01","t":0.5,"v":2570},{"k":"l","s":"s01","t":1,"v":2560},{"k":"l","s":"s01","t":2,"v":2530},
      {"k":"l","s":"s02","t":0.00463,"v":825},{"k":"l","s":"s02","t":0.0078,"v":1260},{"k":"l","s":"s02","t":0.0156,"v":2080},{"k":"l","s":"s02","t":0.031,"v":3000},{"k":"l","s":"s02","t":0.0625,"v":3700},{"k":"l","s":"s02","t":0.125,"v":3950},{"k":"l","s":"s02","t":0.25,"v":4050},{"k":"l","s":"s02","t":0.5,"v":4080},{"k":"l","s":"s02","t":1,"v":4080},{"k":"l","s":"s02","t":2,"v":4070},{"k":"l","s":"s02","t":3,"v":4070},
      {"k":"l","s":"s03","t":0.00463,"v":855},{"k":"l","s":"s03","t":0.0078,"v":1380},{"k":"l","s":"s03","t":0.0156,"v":2300},{"k":"l","s":"s03","t":0.031,"v":3800},{"k":"l","s":"s03","t":0.0625,"v":5350},{"k":"l","s":"s03","t":0.125,"v":6150},{"k":"l","s":"s03","t":0.25,"v":6550},{"k":"l","s":"s03","t":0.5,"v":6700},{"k":"l","s":"s03","t":1,"v":6750},{"k":"l","s":"s03","t":2,"v":6750},{"k":"l","s":"s03","t":3,"v":6750},
      {"k":"l","s":"s04","t":0.00463,"v":870},{"k":"l","s":"s04","t":0.0078,"v":1450},{"k":"l","s":"s04","t":0.0156,"v":2520},{"k":"l","s":"s04","t":0.031,"v":4100},{"k":"l","s":"s04","t":0.0625,"v":6750},{"k":"l","s":"s04","t":0.125,"v":9300},{"k":"l","s":"s04","t":0.25,"v":10700},{"k":"l","s":"s04","t":0.5,"v":11200},{"k":"l","s":"s04","t":1,"v":11350},{"k":"l","s":"s04","t":2,"v":11400},{"k":"l","s":"s04","t":3,"v":11400},
      {"k":"l","s":"s05","t":0.00463,"v":888},{"k":"l","s":"s05","t":0.0078,"v":1510},{"k":"l","s":"s05","t":0.0156,"v":2620},{"k":"l","s":"s05","t":0.031,"v":4450},{"k":"l","s":"s05","t":0.0625,"v":7700},{"k":"l","s":"s05","t":0.125,"v":12300},{"k":"l","s":"s05","t":0.25,"v":16300},{"k":"l","s":"s05","t":0.5,"v":18000},{"k":"l","s":"s05","t":1,"v":18600},{"k":"l","s":"s05","t":2,"v":18800},{"k":"l","s":"s05","t":4,"v":18800},{"k":"l","s":"s05","t":5,"v":18700},
      {"k":"l","s":"s06","t":0.00463,"v":893},{"k":"l","s":"s06","t":0.0078,"v":1540},{"k":"l","s":"s06","t":0.0156,"v":2720},{"k":"l","s":"s06","t":0.031,"v":4620},{"k":"l","s":"s06","t":0.0625,"v":7950},{"k":"l","s":"s06","t":0.125,"v":13800},{"k":"l","s":"s06","t":0.25,"v":21500},{"k":"l","s":"s06","t":0.5,"v":27500},{"k":"l","s":"s06","t":1,"v":29500},{"k":"l","s":"s06","t":2,"v":30300},{"k":"l","s":"s06","t":4,"v":30500},{"k":"l","s":"s06","t":8,"v":30500},
      {"k":"l","s":"s07","t":0.00463,"v":898},{"k":"l","s":"s07","t":0.0078,"v":1555},{"k":"l","s":"s07","t":0.0156,"v":2760},{"k":"l","s":"s07","t":0.031,"v":4720},{"k":"l","s":"s07","t":0.0625,"v":8250},{"k":"l","s":"s07","t":0.125,"v":15300},{"k":"l","s":"s07","t":0.25,"v":26500},{"k":"l","s":"s07","t":0.5,"v":38500},{"k":"l","s":"s07","t":1,"v":46000},{"k":"l","s":"s07","t":2,"v":49000},{"k":"l","s":"s07","t":4,"v":50000},{"k":"l","s":"s07","t":5,"v":50000},
      {"k":"l","s":"s08","t":0.00463,"v":900},{"k":"l","s":"s08","t":0.0078,"v":1560},{"k":"l","s":"s08","t":0.0156,"v":2770},{"k":"l","s":"s08","t":0.031,"v":4740},{"k":"l","s":"s08","t":0.0625,"v":8350},{"k":"l","s":"s08","t":0.125,"v":15700},{"k":"l","s":"s08","t":0.25,"v":28000},{"k":"l","s":"s08","t":0.5,"v":45500},{"k":"l","s":"s08","t":1,"v":63000},{"k":"l","s":"s08","t":2,"v":73500},{"k":"l","s":"s08","t":4,"v":77000},{"k":"l","s":"s08","t":8,"v":78000},{"k":"l","s":"s08","t":16,"v":78300},{"k":"l","s":"s08","t":20,"v":78300},
      {"k":"l","s":"s09","t":0.00463,"v":902},{"k":"l","s":"s09","t":0.0078,"v":1565},{"k":"l","s":"s09","t":0.0156,"v":2780},{"k":"l","s":"s09","t":0.031,"v":4760},{"k":"l","s":"s09","t":0.0625,"v":8400},{"k":"l","s":"s09","t":0.125,"v":16000},{"k":"l","s":"s09","t":0.25,"v":29000},{"k":"l","s":"s09","t":0.5,"v":48500},{"k":"l","s":"s09","t":1,"v":76000},{"k":"l","s":"s09","t":2,"v":108000},{"k":"l","s":"s09","t":4,"v":118000},{"k":"l","s":"s09","t":5,"v":119000},
      {"k":"l","s":"s10","t":0.00463,"v":903},{"k":"l","s":"s10","t":0.0078,"v":1570},{"k":"l","s":"s10","t":0.0156,"v":2790},{"k":"l","s":"s10","t":0.031,"v":4780},{"k":"l","s":"s10","t":0.0625,"v":8450},{"k":"l","s":"s10","t":0.125,"v":16200},{"k":"l","s":"s10","t":0.25,"v":29800},{"k":"l","s":"s10","t":0.5,"v":50500},{"k":"l","s":"s10","t":1,"v":81000},{"k":"l","s":"s10","t":2,"v":118000},{"k":"l","s":"s10","t":4,"v":150000},{"k":"l","s":"s10","t":8,"v":168000},{"k":"l","s":"s10","t":16,"v":175000},{"k":"l","s":"s10","t":32,"v":177000},{"k":"l","s":"s10","t":40,"v":177000},
      {"k":"l","s":"s11","t":0.00463,"v":905},{"k":"l","s":"s11","t":0.0078,"v":1580},{"k":"l","s":"s11","t":0.0156,"v":2800},{"k":"l","s":"s11","t":0.031,"v":4800},{"k":"l","s":"s11","t":0.0625,"v":8500},{"k":"l","s":"s11","t":0.125,"v":16400},{"k":"l","s":"s11","t":0.25,"v":30300},{"k":"l","s":"s11","t":0.5,"v":52000},{"k":"l","s":"s11","t":1,"v":86000},{"k":"l","s":"s11","t":2,"v":132000},{"k":"l","s":"s11","t":4,"v":186000},{"k":"l","s":"s11","t":8,"v":222000},{"k":"l","s":"s11","t":16,"v":230000},{"k":"l","s":"s11","t":32,"v":232000},{"k":"l","s":"s11","t":64,"v":232500},{"k":"l","s":"s11","t":80,"v":232500},
      {"k":"l","s":"s12","t":0.00463,"v":905},{"k":"l","s":"s12","t":0.0078,"v":1580},{"k":"l","s":"s12","t":0.0156,"v":2800},{"k":"l","s":"s12","t":0.031,"v":4800},{"k":"l","s":"s12","t":0.0625,"v":8500},{"k":"l","s":"s12","t":0.125,"v":16500},{"k":"l","s":"s12","t":0.25,"v":30500},{"k":"l","s":"s12","t":0.5,"v":52500},{"k":"l","s":"s12","t":1,"v":87000},{"k":"l","s":"s12","t":2,"v":135000},{"k":"l","s":"s12","t":4,"v":190000},{"k":"l","s":"s12","t":8,"v":229000},{"k":"l","s":"s12","t":16,"v":242000},{"k":"l","s":"s12","t":32,"v":245000},{"k":"l","s":"s12","t":64,"v":246000},{"k":"l","s":"s12","t":120,"v":246000}
    ]
  },
  "resolve": {"axis": {"x": "independent", "y": "independent"}},
  "layer": [
    {
      "transform": [{"filter": "datum.k == 'd'"}],
      "mark": {"type": "line", "strokeWidth": 8, "strokeCap": "round", "strokeJoin": "round", "opacity": 0.7},
      "encoding": {
        "x": {
          "field": "t", "type": "quantitative",
          "scale": {"type": "log", "domain": [0.004631, 146.8], "nice": false},
          "axis": {
            "orient": "bottom",
            "values": [0.005,0.006,0.007,0.008,0.009,0.01,0.02,0.03,0.04,0.05,0.06,0.07,0.08,0.09,0.1,0.2,0.3,0.4,0.5,0.6,0.7,0.8,0.9,1,2,3,4,5,6,7,8,9,10,20,30,40,50,60,70,80,90,100],
            "labelExpr": "datum.value == 0.01 ? '10⁻²' : datum.value == 0.1 ? '10⁻¹' : datum.value == 1 ? '10⁰' : datum.value == 10 ? '10¹' : datum.value == 100 ? '10²' : ''",
            "tickSize": {"condition": {"test": "datum.value == 0.01 || datum.value == 0.1 || datum.value == 1 || datum.value == 10 || datum.value == 100", "value": -17}, "value": -8},
            "tickWidth": 1, "tickColor": "#262626",
            "domainColor": "#262626", "domainWidth": 2,
            "labelFontSize": 16, "labelColor": "#404040", "labelPadding": 41,
            "labelOverlap": false, "labelFlush": false,
            "grid": false,
            "title": "t [s]", "titleFontSize": 14, "titleFontWeight": "normal", "titleColor": "#404040", "titlePadding": 5
          }
        },
        "y": {
          "field": "v", "type": "quantitative",
          "scale": {"type": "log", "domain": [55.4, 612400], "nice": false},
          "axis": {
            "orient": "left",
            "values": [60,70,80,90,100,200,300,400,500,600,700,800,900,1000,2000,3000,4000,5000,6000,7000,8000,9000,10000,20000,30000,40000,50000,60000,70000,80000,90000,100000,200000,300000,400000,500000,600000],
            "labelExpr": "datum.value == 100 ? '10²' : datum.value == 1000 ? '10³' : datum.value == 10000 ? '10⁴' : datum.value == 100000 ? '10⁵' : ''",
            "tickSize": {"condition": {"test": "datum.value == 100 || datum.value == 1000 || datum.value == 10000 || datum.value == 100000", "value": -11}, "value": -5},
            "tickWidth": 2, "tickColor": "#262626",
            "domainColor": "#262626", "domainWidth": 2,
            "labelFontSize": 16, "labelColor": "#404040", "labelPadding": 14,
            "labelOverlap": false, "labelFlush": false,
            "grid": false,
            "title": "η⁺(t) [Pa.s]", "titleFontSize": 14, "titleFontWeight": "bold", "titleColor": "#404040", "titlePadding": 3
          }
        },
        "stroke": {
          "field": "s", "type": "nominal",
          "scale": {
            "domain": ["s01","s02","s03","s04","s05","s06","s07","s08","s09","s10","s11","s12"],
            "range": ["#D95319","#00FF00","#00BFBF","#808080","#FF0000","#77AC30","#BF00BF","#404040","#FF00FF","#EDB120","#0000FF","#000000"]
          },
          "legend": null
        }
      }
    },
    {
      "transform": [{"filter": "datum.k == 'c' || datum.k == 'd'"}],
      "mark": {"type": "point", "shape": "M-0.65,0A0.65,1,0,1,0,0.65,0A0.65,1,0,1,0,-0.65,0Z", "filled": false, "size": 115, "strokeWidth": 1, "opacity": 1},
      "encoding": {
        "x": {"field": "t", "type": "quantitative", "axis": null},
        "y": {"field": "v", "type": "quantitative", "axis": null},
        "stroke": {"field": "s", "type": "nominal", "legend": null}
      }
    },
    {
      "transform": [{"filter": "datum.k == 'y'"}],
      "mark": {"type": "point", "shape": "M-0.68,0A0.68,1,0,1,0,0.68,0A0.68,1,0,1,0,-0.68,0Z", "filled": true, "size": 180, "color": "#FFFF00", "opacity": 1, "strokeWidth": 0},
      "encoding": {
        "x": {"field": "t", "type": "quantitative", "axis": null},
        "y": {"field": "v", "type": "quantitative", "axis": null}
      }
    },
    {
      "transform": [{"filter": "datum.k == 'x'"}],
      "mark": {"type": "point", "shape": "M-0.8,-0.4L-0.32,-1L0,-0.6L0.32,-1L0.8,-0.4L0.48,0L0.8,0.4L0.32,1L0,0.6L-0.32,1L-0.8,0.4L-0.48,0Z", "filled": true, "size": 240, "color": "#A2142F", "stroke": "#A2142F", "strokeWidth": 1.5, "strokeJoin": "round", "opacity": 1},
      "encoding": {
        "x": {"field": "t", "type": "quantitative", "axis": null},
        "y": {"field": "v", "type": "quantitative", "axis": null}
      }
    },
    {
      "transform": [{"filter": "datum.k == 'l' && datum.s != 's11' && datum.s != 's12'"}],
      "mark": {"type": "line", "strokeWidth": 3.5},
      "encoding": {
        "x": {"field": "t", "type": "quantitative", "axis": null},
        "y": {"field": "v", "type": "quantitative", "axis": null},
        "color": {
          "field": "s", "type": "nominal",
          "scale": {
            "domain": ["s01","s02","s03","s04","s05","s06","s07","s08","s09","s10"],
            "range": ["#D95319","#00FF00","#00BFBF","#808080","#FF0000","#77AC30","#BF00BF","#808080","#FF00FF","#EDB120"]
          },
          "legend": null
        }
      }
    },
    {
      "transform": [{"filter": "datum.k == 'l' && datum.s == 's12'"}],
      "mark": {"type": "line", "strokeWidth": 4.5, "color": "#000000"},
      "encoding": {
        "x": {"field": "t", "type": "quantitative", "axis": null},
        "y": {"field": "v", "type": "quantitative", "axis": null}
      }
    },
    {
      "transform": [{"filter": "datum.k == 'l' && datum.s == 's11'"}],
      "mark": {"type": "line", "strokeWidth": 3.5, "color": "#0000FF"},
      "encoding": {
        "x": {
          "field": "t", "type": "quantitative",
          "axis": {
            "orient": "top",
            "values": [0.005,0.006,0.007,0.008,0.009,0.01,0.02,0.03,0.04,0.05,0.06,0.07,0.08,0.09,0.1,0.2,0.3,0.4,0.5,0.6,0.7,0.8,0.9,1,2,3,4,5,6,7,8,9,10,20,30,40,50,60,70,80,90,100],
            "labels": false,
            "tickSize": {"condition": {"test": "datum.value == 0.01 || datum.value == 0.1 || datum.value == 1 || datum.value == 10 || datum.value == 100", "value": -18}, "value": -10},
            "tickWidth": 1, "tickColor": "#262626",
            "domainColor": "#262626", "domainWidth": 2,
            "grid": false, "title": null
          }
        },
        "y": {
          "field": "v", "type": "quantitative",
          "axis": {
            "orient": "right",
            "values": [60,70,80,90,100,200,300,400,500,600,700,800,900,1000,2000,3000,4000,5000,6000,7000,8000,9000,10000,20000,30000,40000,50000,60000,70000,80000,90000,100000,200000,300000,400000,500000,600000],
            "labels": false, "domain": false,
            "tickSize": {"condition": {"test": "datum.value == 100 || datum.value == 1000 || datum.value == 10000 || datum.value == 100000", "value": -11}, "value": -5},
            "tickWidth": 2, "tickColor": "#262626",
            "grid": false, "title": null
          }
        }
      }
    }
  ]
}
